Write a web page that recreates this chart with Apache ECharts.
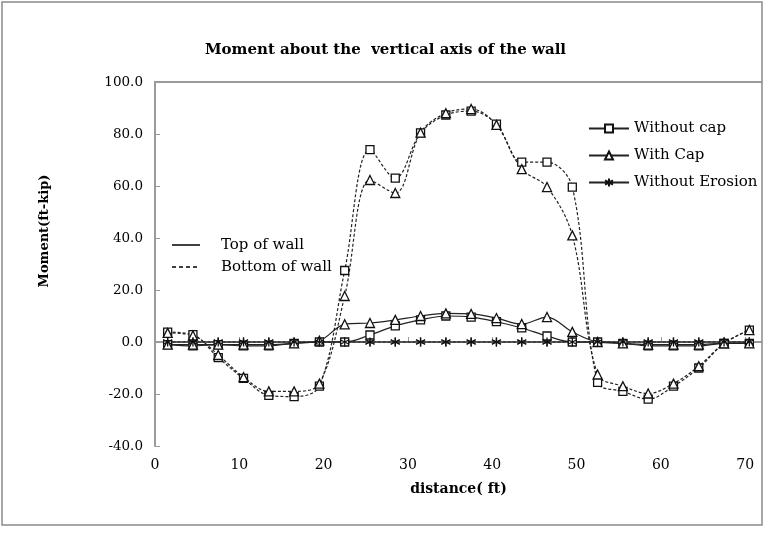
<!DOCTYPE html>
<html>
<head>
<meta charset="utf-8">
<script src="https://cdn.jsdelivr.net/npm/echarts@6/dist/echarts.min.js"></script>
<style>html,body{margin:0;padding:0;background:#fff}#c{width:771px;height:533px}</style>
</head>
<body>
<div id="c"></div>
<script>
const distance = [1.5,4.5,7.5,10.5,13.5,16.5,19.5,22.5,25.5,28.5,31.5,34.5,37.5,40.5,43.5,46.5,49.5,52.5,55.5,58.5,61.5,64.5,67.5,70.5];
const withoutCapTop    = [-1,-1.5,-1,-1.5,-1.5,-0.5,0,0,2.7,6.2,8.5,10,9.6,7.8,5.4,2.3,0,0,-0.5,-1.5,-1.5,-1.5,-0.5,-0.5];
const withoutCapBottom = [3.8,2.8,-6,-14,-20.5,-21,-17,27.5,74,63,80.4,87.3,88.8,83.8,69.2,69.2,59.6,-15.5,-19,-22,-17,-10,-0.5,4.6];
const withCapTop       = [-1,-1,-1,-1,-1,-0.5,0.5,6.8,7.3,8.5,10,11,10.8,9.2,6.9,9.6,3.9,0,-0.5,-1,-1,-1,-0.5,-0.5];
const withCapBottom    = [3.5,2.5,-5,-13.5,-19,-19,-16,17.7,62.3,57.3,80.5,88,89.6,83.5,66.5,59.6,41,-12.5,-17,-19.8,-16,-9.3,-0.5,4.6];
const erosionTop       = [0,0,0,0,0,0,0,0,0,0,0,0,0,0,0,0,0,0,0,0,0,0,0,0];
const erosionBottom    = [0,0,0,0,0,0,0,0,0,0,0,0,0,0,0,0,0,0,0,0,0,0,0,0];
const xTicks = [0,10,20,30,40,50,60,70];
const yTicks = [-40,-20,0,20,40,60,80,100];
const wallLegend = ['Top of wall','Bottom of wall'];

const font = 'DejaVu Serif';
const asterisk = 'path://M5,0L5,10M0.7,2.5L9.3,7.5M9.3,2.5L0.7,7.5';
function pairs(vals){ return distance.map((d,i)=>[d, vals[i]]); }
function mk(name, vals, dashed, symbol, size, fill){
  return {
    name, type:'line', smooth:0.35, data:pairs(vals),
    symbol, symbolSize:size, showAllSymbol:true,
    lineStyle:{color:'#222', width:1.2, type: dashed ? [3,2] : 'solid'},
    itemStyle:{color:fill, borderColor:'#111', borderWidth:1.3},
    emphasis:{disabled:true}, z: dashed ? 2 : 3
  };
}
const chart = echarts.init(document.getElementById('c'), null, {renderer:'canvas'});
chart.setOption({
  animation:false,
  backgroundColor:'#fff',
  textStyle:{fontFamily:font, color:'#000'},
  title:{text:'Moment about the  vertical axis of the wall', left:'center', top:38,
    textStyle:{fontFamily:font, fontWeight:'bold', fontSize:15, color:'#000'}},
  grid:{left:155, right:9, top:82, bottom:87},
  legend:{data:['Without cap','With Cap','Without Erosion'], orient:'vertical', left:583, top:116,
     itemWidth:40, itemHeight:10, itemGap:12,
     textStyle:{fontFamily:font, fontSize:15, color:'#000'}},
  xAxis:[{
    type:'value', min:0, max:72, interval:10,
    name:'distance( ft)', nameLocation:'middle', nameGap:36,
    nameTextStyle:{fontFamily:font, fontWeight:'bold', fontSize:14, color:'#000'},
    axisLine:{lineStyle:{color:'#9a9a9a', width:2}},
    axisTick:{inside:true, length:5, lineStyle:{color:'#9a9a9a'}, customValues:xTicks},
    axisLabel:{customValues:xTicks, fontFamily:font, fontSize:14, color:'#000', margin:12},
    splitLine:{show:false}
  },{
    type:'value', position:'top', min:0, max:72,
    axisLine:{show:true, lineStyle:{color:'#9a9a9a', width:2}},
    axisTick:{show:false}, axisLabel:{show:false}, splitLine:{show:false}
  }],
  yAxis:{
    type:'value', min:-40, max:100, interval:20,
    axisLine:{show:true, lineStyle:{color:'#9a9a9a', width:2}},
    axisTick:{show:true, inside:true, length:5, lineStyle:{color:'#9a9a9a'}, customValues:yTicks},
    axisLabel:{customValues:yTicks, formatter:v=>v.toFixed(1), fontFamily:font, fontSize:13.5, color:'#000', margin:12},
    splitLine:{show:false}
  },
  graphic:[
    {type:'rect', shape:{x:2, y:2, width:760, height:523}, style:{fill:null, stroke:'#8a8a8a', lineWidth:1.5}, silent:true},
    {type:'text', x:45, y:231, rotation:Math.PI/2, style:{text:'Moment(ft-kip)', font:'bold 13px "DejaVu Serif"', fill:'#000', align:'center', verticalAlign:'middle'}},
    {type:'line', shape:{x1:172, y1:245, x2:200, y2:245}, style:{stroke:'#000', lineWidth:1.5}},
    {type:'line', shape:{x1:172, y1:267, x2:200, y2:267}, style:{stroke:'#000', lineWidth:1.5, lineDash:[4,3]}},
    {type:'text', x:221, y:245, style:{text:wallLegend[0], font:'15px "DejaVu Serif"', fill:'#000', verticalAlign:'middle'}},
    {type:'text', x:221, y:267, style:{text:wallLegend[1], font:'15px "DejaVu Serif"', fill:'#000', verticalAlign:'middle'}}
  ],
  series:[
    mk('Without cap', withoutCapTop, false, 'rect', 8, '#fff'),
    mk('With Cap', withCapTop, false, 'triangle', 9, '#fff'),
    mk('Without Erosion', erosionTop, false, asterisk, 9, 'none'),
    mk('Without cap', withoutCapBottom, true, 'rect', 8, '#fff'),
    mk('With Cap', withCapBottom, true, 'triangle', 9, '#fff'),
    mk('Without Erosion', erosionBottom, true, asterisk, 9, 'none')
  ]
});
</script>
</body>
</html>
